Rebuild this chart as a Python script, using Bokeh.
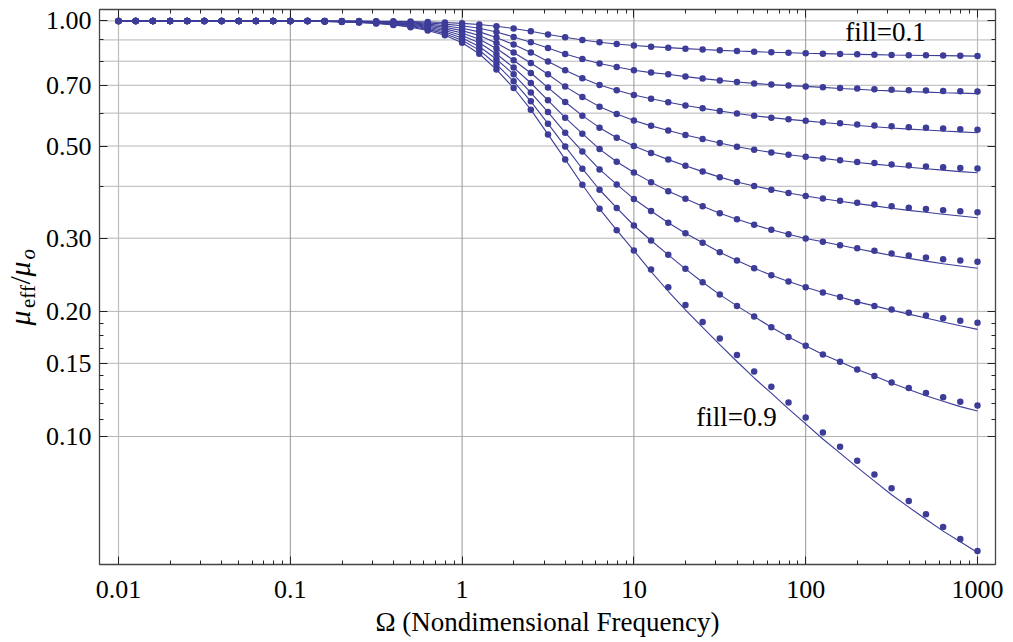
import math
from bokeh.plotting import figure
from bokeh.layouts import row
from bokeh.models import Range1d, FixedTicker, LogAxis, Label, Span
from bokeh.embed import file_html
from bokeh.resources import INLINE

# ---------------- data ----------------
OMEGA = [0.01, 0.01259, 0.01585, 0.01995, 0.02512, 0.03162, 0.03981, 0.05012, 0.0631, 0.07943,
         0.1, 0.1259, 0.1585, 0.1995, 0.2512, 0.3162, 0.3981, 0.5012, 0.631, 0.7943,
         1.0, 1.259, 1.585, 1.995, 2.512, 3.162, 3.981, 5.012, 6.31, 7.943,
         10.0, 12.59, 15.85, 19.95, 25.12, 31.62, 39.81, 50.12, 63.1, 79.43,
         100.0, 125.9, 158.5, 199.5, 251.2, 316.2, 398.1, 501.2, 631.0, 794.3, 1000.0]

FILLS = [0.1, 0.2, 0.3, 0.4, 0.5, 0.6, 0.7, 0.8, 0.9]

# simulated points (dots)
DOTS_F01 = [1.0, 1.0, 1.0, 1.0, 1.0, 1.0, 1.0, 1.0, 1.0, 1.0, 1.0, 1.0,
            0.9996, 0.9994, 0.9990, 0.9985, 0.9975, 0.9961, 0.9942, 0.9912, 0.9867, 0.9800,
            0.9705, 0.9587, 0.9445, 0.9273, 0.9135, 0.9000, 0.8885, 0.8802, 0.8729, 0.8671, 0.8623, 0.8575,
            0.8533, 0.8495, 0.8462, 0.8434, 0.8406, 0.8382, 0.8359, 0.8341, 0.8322, 0.8308, 0.8295, 0.8281,
            0.8272, 0.8262, 0.8253, 0.8244, 0.8235]
DOTS_F02 = [1.0, 1.0, 1.0, 1.0, 1.0, 1.0, 1.0, 1.0, 1.0, 1.0, 1.0, 1.0,
            0.9993, 0.9988, 0.9980, 0.9969, 0.9951, 0.9923, 0.9884, 0.9825, 0.9735, 0.9604,
            0.9408, 0.9151, 0.8885, 0.8609, 0.8327, 0.8099, 0.7895, 0.7747, 0.7607, 0.7510, 0.7440, 0.7346,
            0.7265, 0.7192, 0.7129, 0.7074, 0.7027, 0.6988, 0.6957, 0.6926, 0.6895, 0.6873, 0.6850, 0.6831,
            0.6812, 0.6797, 0.6782, 0.6770, 0.6759]
DOTS_F03 = [1.0, 1.0, 1.0, 1.0, 1.0, 1.0, 1.0, 1.0, 1.0, 1.0, 1.0, 1.0,
            0.9989, 0.9982, 0.9971, 0.9954, 0.9926, 0.9884, 0.9826, 0.9739, 0.9605, 0.9411,
            0.9125, 0.8773, 0.8392, 0.7983, 0.7607, 0.7277, 0.7011, 0.6808, 0.6633, 0.6494, 0.6373, 0.6261,
            0.6161, 0.6069, 0.5986, 0.5913, 0.5851, 0.5796, 0.5748, 0.5707, 0.5669, 0.5634, 0.5603, 0.5575,
            0.5551, 0.5529, 0.5508, 0.5489, 0.5471]
DOTS_F04 = [1.0, 1.0, 1.0, 1.0, 1.0, 1.0, 1.0, 1.0, 1.0, 1.0, 1.0, 1.0,
            0.9985, 0.9975, 0.9961, 0.9939, 0.9902, 0.9846, 0.9769, 0.9654, 0.9477, 0.9223,
            0.8850, 0.8392, 0.7921, 0.7440, 0.6949, 0.6559, 0.6219, 0.5969, 0.5758, 0.5591, 0.5447, 0.5315,
            0.5196, 0.5082, 0.4981, 0.4899, 0.4826, 0.4765, 0.4713, 0.4668, 0.4622, 0.4579, 0.4548, 0.4515,
            0.4491, 0.4466, 0.4448, 0.4429, 0.4416]
DOTS_F05 = [1.0, 1.0, 1.0, 1.0, 1.0, 1.0, 1.0, 1.0, 1.0, 1.0, 1.0, 1.0,
            0.9981, 0.9969, 0.9951, 0.9924, 0.9878, 0.9808, 0.9711, 0.9569, 0.9350, 0.9038,
            0.8585, 0.8041, 0.7494, 0.6911, 0.6380, 0.5916, 0.5535, 0.5236, 0.4998, 0.4808, 0.4637, 0.4481,
            0.4339, 0.4208, 0.4098, 0.4008, 0.3926, 0.3855, 0.3791, 0.3739, 0.3694, 0.3653, 0.3617, 0.3583,
            0.3553, 0.3528, 0.3504, 0.3485, 0.3466]
DOTS_F06 = [1.0, 1.0, 1.0, 1.0, 1.0, 1.0, 1.0, 1.0, 1.0, 1.0, 1.0, 1.0,
            0.9978, 0.9963, 0.9941, 0.9908, 0.9853, 0.9770, 0.9655, 0.9485, 0.9225, 0.8857,
            0.8327, 0.7722, 0.7089, 0.6440, 0.5851, 0.5354, 0.4916, 0.4584, 0.4319, 0.4093, 0.3894, 0.3733,
            0.3583, 0.3446, 0.3334, 0.3232, 0.3143, 0.3067, 0.2995, 0.2941, 0.2886, 0.2838, 0.2797, 0.2756,
            0.2725, 0.2695, 0.2670, 0.2651, 0.2632]
DOTS_F07 = [1.0, 1.0, 1.0, 1.0, 1.0, 1.0, 1.0, 1.0, 1.0, 1.0, 1.0, 1.0,
            0.9974, 0.9957, 0.9931, 0.9893, 0.9829, 0.9732, 0.9598, 0.9402, 0.9102, 0.8680,
            0.8086, 0.7440, 0.6722, 0.6036, 0.5384, 0.4853, 0.4392, 0.4041, 0.3729, 0.3489, 0.3268, 0.3084,
            0.2924, 0.2776, 0.2651, 0.2540, 0.2443, 0.2359, 0.2286, 0.2220, 0.2165, 0.2108, 0.2062, 0.2020,
            0.1984, 0.1954, 0.1925, 0.1900, 0.1879]
DOTS_F08 = [1.0, 1.0, 1.0, 1.0, 1.0, 1.0, 1.0, 1.0, 1.0, 1.0, 1.0, 1.0,
            0.9970, 0.9951, 0.9921, 0.9878, 0.9805, 0.9694, 0.9542, 0.9319, 0.8981, 0.8506,
            0.7856, 0.7157, 0.6405, 0.5660, 0.4990, 0.4409, 0.3924, 0.3547, 0.3219, 0.2962, 0.2736, 0.2532,
            0.2350, 0.2195, 0.2062, 0.1943, 0.1831, 0.1736, 0.1654, 0.1576, 0.1514, 0.1450, 0.1398, 0.1349,
            0.1309, 0.1272, 0.1242, 0.1212, 0.1188]
DOTS_F09 = [1.0, 1.0, 1.0, 1.0, 1.0, 1.0, 1.0, 1.0, 1.0, 1.0, 1.0, 1.0,
            0.9967, 0.9945, 0.9912, 0.9862, 0.9781, 0.9656, 0.9487, 0.9237, 0.8861, 0.8336,
            0.7636, 0.6896, 0.6117, 0.5333, 0.4643, 0.4034, 0.3531, 0.3136, 0.2802, 0.2522, 0.2286, 0.2073,
            0.1887, 0.1720, 0.1571, 0.1434, 0.1318, 0.1208, 0.1111, 0.1022, 0.0945, 0.0874, 0.0810, 0.0751,
            0.0699, 0.0650, 0.0606, 0.0567, 0.0530]

# analytic curves (solid lines)
LINE_F01 = [1.0, 1.0, 1.0, 1.0, 1.0, 1.0, 1.0, 1.0, 1.0, 1.0, 1.0, 1.0,
            0.9996, 0.9994, 0.9990, 0.9985, 0.9975, 0.9961, 0.9942, 0.9912, 0.9867, 0.9800,
            0.9705, 0.9587, 0.9445, 0.9273, 0.9135, 0.9000, 0.8885, 0.8802, 0.8729, 0.8671, 0.8623, 0.8575,
            0.8533, 0.8495, 0.8462, 0.8434, 0.8406, 0.8382, 0.8359, 0.8341, 0.8322, 0.8308, 0.8295, 0.8281,
            0.8270, 0.8259, 0.8249, 0.8239, 0.8229]
LINE_F02 = [1.0, 1.0, 1.0, 1.0, 1.0, 1.0, 1.0, 1.0, 1.0, 1.0, 1.0, 1.0,
            0.9993, 0.9988, 0.9980, 0.9969, 0.9951, 0.9923, 0.9884, 0.9825, 0.9735, 0.9604,
            0.9408, 0.9151, 0.8885, 0.8609, 0.8327, 0.8099, 0.7895, 0.7747, 0.7607, 0.7510, 0.7440, 0.7346,
            0.7265, 0.7192, 0.7129, 0.7074, 0.7027, 0.6988, 0.6957, 0.6918, 0.6876, 0.6846, 0.6812, 0.6786,
            0.6763, 0.6741, 0.6718, 0.6703, 0.6684]
LINE_F03 = [1.0, 1.0, 1.0, 1.0, 1.0, 1.0, 1.0, 1.0, 1.0, 1.0, 1.0, 1.0,
            0.9989, 0.9982, 0.9971, 0.9954, 0.9926, 0.9884, 0.9826, 0.9739, 0.9605, 0.9411,
            0.9125, 0.8773, 0.8392, 0.7983, 0.7607, 0.7277, 0.7011, 0.6808, 0.6633, 0.6494, 0.6373, 0.6261,
            0.6161, 0.6069, 0.5986, 0.5913, 0.5851, 0.5796, 0.5748, 0.5698, 0.5647, 0.5603, 0.5563, 0.5523,
            0.5490, 0.5462, 0.5432, 0.5407, 0.5381]
LINE_F04 = [1.0, 1.0, 1.0, 1.0, 1.0, 1.0, 1.0, 1.0, 1.0, 1.0, 1.0, 1.0,
            0.9985, 0.9975, 0.9961, 0.9939, 0.9902, 0.9846, 0.9769, 0.9654, 0.9477, 0.9223,
            0.8850, 0.8392, 0.7921, 0.7440, 0.6949, 0.6559, 0.6219, 0.5969, 0.5758, 0.5591, 0.5447, 0.5315,
            0.5196, 0.5082, 0.4981, 0.4899, 0.4826, 0.4765, 0.4713, 0.4668, 0.4614, 0.4564, 0.4523, 0.4483,
            0.4446, 0.4407, 0.4375, 0.4339, 0.4310]
LINE_F05 = [1.0, 1.0, 1.0, 1.0, 1.0, 1.0, 1.0, 1.0, 1.0, 1.0, 1.0, 1.0,
            0.9981, 0.9969, 0.9951, 0.9924, 0.9878, 0.9808, 0.9711, 0.9569, 0.9350, 0.9038,
            0.8585, 0.8041, 0.7494, 0.6911, 0.6380, 0.5916, 0.5535, 0.5236, 0.4998, 0.4808, 0.4637, 0.4481,
            0.4339, 0.4208, 0.4098, 0.4008, 0.3926, 0.3855, 0.3791, 0.3733, 0.3682, 0.3633, 0.3589, 0.3543,
            0.3500, 0.3464, 0.3427, 0.3393, 0.3360]
LINE_F06 = [1.0, 1.0, 1.0, 1.0, 1.0, 1.0, 1.0, 1.0, 1.0, 1.0, 1.0, 1.0,
            0.9978, 0.9963, 0.9941, 0.9908, 0.9853, 0.9770, 0.9655, 0.9485, 0.9225, 0.8857,
            0.8327, 0.7722, 0.7089, 0.6440, 0.5851, 0.5354, 0.4916, 0.4584, 0.4319, 0.4093, 0.3894, 0.3733,
            0.3583, 0.3446, 0.3334, 0.3232, 0.3143, 0.3067, 0.2995, 0.2941, 0.2886, 0.2830, 0.2778, 0.2726,
            0.2683, 0.2642, 0.2604, 0.2573, 0.2540]
LINE_F07 = [1.0, 1.0, 1.0, 1.0, 1.0, 1.0, 1.0, 1.0, 1.0, 1.0, 1.0, 1.0,
            0.9974, 0.9957, 0.9931, 0.9893, 0.9829, 0.9732, 0.9598, 0.9402, 0.9102, 0.8680,
            0.8086, 0.7440, 0.6722, 0.6036, 0.5384, 0.4853, 0.4392, 0.4041, 0.3729, 0.3489, 0.3268, 0.3084,
            0.2924, 0.2776, 0.2651, 0.2540, 0.2443, 0.2359, 0.2286, 0.2220, 0.2165, 0.2108, 0.2062, 0.2014,
            0.1970, 0.1928, 0.1886, 0.1847, 0.1810]
LINE_F08 = [1.0, 1.0, 1.0, 1.0, 1.0, 1.0, 1.0, 1.0, 1.0, 1.0, 1.0, 1.0,
            0.9970, 0.9951, 0.9921, 0.9878, 0.9805, 0.9694, 0.9542, 0.9319, 0.8981, 0.8506,
            0.7856, 0.7157, 0.6405, 0.5660, 0.4990, 0.4409, 0.3924, 0.3547, 0.3219, 0.2962, 0.2736, 0.2532,
            0.2350, 0.2195, 0.2062, 0.1943, 0.1831, 0.1736, 0.1654, 0.1576, 0.1514, 0.1450, 0.1398, 0.1345,
            0.1298, 0.1253, 0.1215, 0.1180, 0.1152]
LINE_F09 = [1.0, 1.0, 1.0, 1.0, 1.0, 1.0, 1.0, 1.0, 1.0, 1.0, 1.0, 1.0,
            0.9967, 0.9945, 0.9912, 0.9862, 0.9781, 0.9656, 0.9487, 0.9237, 0.8861, 0.8336,
            0.7636, 0.6896, 0.6117, 0.5333, 0.4643, 0.4034, 0.3531, 0.3136, 0.2802, 0.2494, 0.2236, 0.2016,
            0.1830, 0.1664, 0.1515, 0.1383, 0.1271, 0.1165, 0.1072, 0.0986, 0.0912, 0.0843, 0.0781, 0.0724,
            0.0676, 0.0632, 0.0592, 0.0558, 0.0526]

DOTS = [DOTS_F01, DOTS_F02, DOTS_F03, DOTS_F04, DOTS_F05, DOTS_F06, DOTS_F07, DOTS_F08, DOTS_F09]
LINES = [LINE_F01, LINE_F02, LINE_F03, LINE_F04, LINE_F05, LINE_F06, LINE_F07, LINE_F08, LINE_F09]

X_TICKS = [0.01, 0.1, 1.0, 10.0, 100.0, 1000.0]
X_TICK_LABELS = ["0.01", "0.1", "1", "10", "100", "1000"]
X_MINOR = [0.02, 0.03, 0.04, 0.05, 0.06, 0.07, 0.08, 0.09,
           0.2, 0.3, 0.4, 0.5, 0.6, 0.7, 0.8, 0.9,
           2, 3, 4, 5, 6, 7, 8, 9,
           20, 30, 40, 50, 60, 70, 80, 90,
           200, 300, 400, 500, 600, 700, 800, 900]
Y_TICKS = [0.1, 0.15, 0.2, 0.3, 0.5, 0.7, 1.0]
Y_TICK_LABELS = ["0.10", "0.15", "0.20", "0.30", "0.50", "0.70", "1.00"]
Y_MINOR = [0.11, 0.12, 0.13, 0.14, 0.1625, 0.175, 0.1875, 0.4, 0.6, 0.8, 0.9]
Y_GRID = [0.1, 0.15, 0.2, 0.3, 0.4, 0.5, 0.6, 0.7, 0.8, 0.9, 1.0]
X_GRID_DARK = [0.1, 1.0, 10.0, 100.0]
X_GRID_LIGHT = [0.01, 1000.0]

FILL_LABELS = [("fill=0.1", 170.0, 0.940), ("fill=0.9", 23.1, 0.1113)]
X_TITLE = "Ω (Nondimensional Frequency)"

BLUE = "#3d3d99"
SERIF = "Liberation Serif"

H = 642
FRAME_TOP = 9
BORDER_BOTTOM = 78

# ---------------- y-title strip (left) ----------------
LAB_W = 42
# the row layout aligns this strip's frame with the main frame; range = canvas rows (bottom-up)
lab = figure(width=LAB_W, height=H, x_range=Range1d(0, LAB_W),
             y_range=Range1d(BORDER_BOTTOM, H - FRAME_TOP),
             output_backend="svg", toolbar_location=None, min_border=0,
             min_border_top=FRAME_TOP, min_border_bottom=BORDER_BOTTOM)
lab.axis.visible = False
lab.grid.visible = False
lab.outline_line_color = None
lab.background_fill_color = "white"
lab.border_fill_color = "white"

# pieces of  mu_eff / mu_o  (rotated, reading bottom to top)
ypieces = [("μ", 19.0, 317.0, "italic", "30px"),
           ("eff", 27.5, 334.5, "normal", "21px"),
           ("/", 19.0, 358.0, "normal", "30px"),
           ("μ", 19.0, 366.0, "italic", "30px"),
           ("o", 27.5, 383.0, "italic", "21px")]
for txt, xv, yv, style, size in ypieces:
    lab.add_layout(Label(x=xv, y=yv, text=txt, angle=math.pi / 2, text_font=SERIF,
                         text_font_style=style, text_font_size=size, text_color="black",
                         text_align="left", text_baseline="alphabetic"))

# ---------------- main figure ----------------
p = figure(width=1013 - LAB_W, height=H, x_axis_type="log", y_axis_type="log",
           x_range=Range1d(0.007751, 1273.0), y_range=Range1d(0.0492, 1.0653),
           output_backend="svg", toolbar_location=None,
           min_border_left=99 - LAB_W, min_border_right=18, min_border_top=FRAME_TOP,
           min_border_bottom=BORDER_BOTTOM)
p.background_fill_color = "white"
p.border_fill_color = "white"
p.outline_line_color = "#444444"
p.outline_line_width = 1.3
p.xgrid.visible = False
p.ygrid.visible = False

for g in Y_GRID:
    p.add_layout(Span(location=g, dimension="width", line_color="#b5b5b5", line_width=1, level="underlay"))
for g in X_GRID_DARK:
    p.add_layout(Span(location=g, dimension="height", line_color="#959595", line_width=1, level="underlay"))
for g in X_GRID_LIGHT:
    p.add_layout(Span(location=g, dimension="height", line_color="#bdbdbd", line_width=1.2, level="underlay"))

xt = FixedTicker(ticks=X_TICKS, minor_ticks=X_MINOR)
yt = FixedTicker(ticks=Y_TICKS, minor_ticks=Y_MINOR)


def style_axis(ax, labels=True):
    ax.axis_line_color = None
    ax.major_tick_in = 8
    ax.major_tick_out = 0
    ax.minor_tick_in = 4
    ax.minor_tick_out = 0
    ax.major_tick_line_color = "#222222"
    ax.minor_tick_line_color = "#222222"
    if labels:
        ax.major_label_text_font = SERIF
        ax.major_label_text_font_size = "26px"
        ax.major_label_text_color = "black"
    else:
        ax.major_label_text_font_size = "1px"
        ax.major_label_text_color = "white"
        ax.major_label_text_alpha = 0.0
        ax.major_label_standoff = 0


bx = p.xaxis[0]
bx.ticker = xt
bx.major_label_overrides = {t: s for t, s in zip(X_TICKS, X_TICK_LABELS)}
style_axis(bx)
bx.major_label_standoff = 16
bx.axis_label = X_TITLE
bx.axis_label_text_font = SERIF
bx.axis_label_text_font_style = "normal"
bx.axis_label_text_font_size = "27px"
bx.axis_label_text_color = "black"
bx.axis_label_standoff = 6

ly = p.yaxis[0]
ly.ticker = yt
ly.major_label_overrides = {t: s for t, s in zip(Y_TICKS, Y_TICK_LABELS)}
style_axis(ly)
ly.major_label_standoff = 8

top = LogAxis(ticker=xt)
style_axis(top, labels=False)
p.add_layout(top, "above")
right = LogAxis(ticker=yt)
style_axis(right, labels=False)
p.add_layout(right, "right")

# curves
for line_vals in LINES:
    p.line(OMEGA, line_vals, line_color=BLUE, line_width=1.1)
for dot_vals in DOTS:
    p.scatter(OMEGA, dot_vals, size=6.5, fill_color=BLUE, line_color=BLUE, line_width=0)

for txt, xv, yv in FILL_LABELS:
    p.add_layout(Label(x=xv, y=yv, text=txt, text_font=SERIF, text_font_size="27px",
                       text_color="black", text_align="left", text_baseline="alphabetic"))

layout = row(lab, p, spacing=0)
open("out.html", "w").write(file_html(layout, INLINE))
